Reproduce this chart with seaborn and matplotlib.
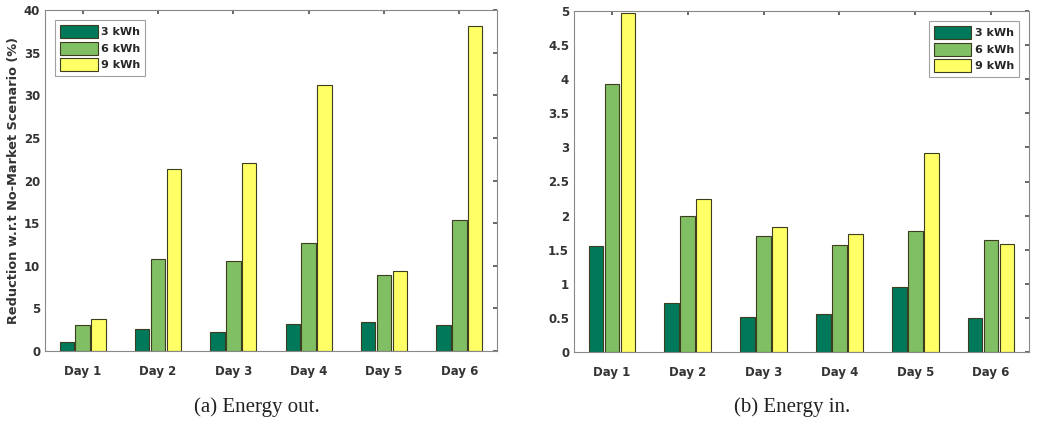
import matplotlib
matplotlib.use("Agg")
import matplotlib.pyplot as plt
import numpy as np
import pandas as pd
import seaborn as sns

# ----- data ------------------------------------------------------------------
DAYS = ["Day 1", "Day 2", "Day 3", "Day 4", "Day 5", "Day 6"]
SIZES = ["3 kWh", "6 kWh", "9 kWh"]

OUT_3 = [1.1, 2.6, 2.2, 3.2, 3.4, 3.1]
OUT_6 = [3.0, 10.8, 10.6, 12.7, 8.9, 15.4]
OUT_9 = [3.7, 21.3, 22.0, 31.2, 9.4, 38.1]

IN_3 = [1.55, 0.72, 0.52, 0.55, 0.96, 0.50]
IN_6 = [3.93, 2.00, 1.70, 1.57, 1.78, 1.64]
IN_9 = [4.97, 2.24, 1.84, 1.73, 2.92, 1.58]

COLORS = ["#00795a", "#80bf63", "#ffff66"]


def long_df(a, b, c):
    rows = []
    for size, vals in zip(SIZES, [a, b, c]):
        for d, v in zip(DAYS, vals):
            rows.append({"day": d, "size": size, "value": v})
    return pd.DataFrame(rows)


def style_ax(ax, ymax, step):
    ax.set_xlim(-0.5, 5.5)
    ax.set_ylim(0, ymax)
    ticks = np.arange(0, ymax + step / 2, step)
    ax.set_yticks(ticks)
    ax.set_yticklabels([f"{t:g}" for t in ticks])
    ax.set_xlabel("")
    ax.tick_params(direction="in", top=True, right=True, length=3,
                   color="#555555", labelsize=8.5, labelcolor="#333333")
    ax.tick_params(axis="x", pad=10)
    for lbl in ax.get_xticklabels() + ax.get_yticklabels():
        lbl.set_fontweight("bold")
    for sp in ax.spines.values():
        sp.set_color("#888888")
        sp.set_linewidth(0.8)
    ax.grid(False)


sns.set_theme(style="white")
plt.rcParams["font.family"] = ["DejaVu Sans"]

fig = plt.figure(figsize=(10.56, 4.26), dpi=100)
ax1 = fig.add_axes([45 / 1056, 75 / 426, 452 / 1056, 341 / 426])
ax2 = fig.add_axes([574 / 1056, 74 / 426, 455 / 1056, 341 / 426])

for ax, data, ymax, step, loc in [
    (ax1, long_df(OUT_3, OUT_6, OUT_9), 40, 5, "upper left"),
    (ax2, long_df(IN_3, IN_6, IN_9), 5, 0.5, "upper right"),
]:
    sns.barplot(data=data, x="day", y="value", hue="size", hue_order=SIZES,
                palette=COLORS, saturation=1, width=0.63, gap=0.08,
                edgecolor="#3d3d1f", linewidth=0.8, ax=ax)
    style_ax(ax, ymax, step)
    ax.set_ylabel("")
    leg = ax.legend(loc=loc, frameon=True, fancybox=False, edgecolor="#888888",
                    prop={"weight": "bold", "size": 8}, handlelength=3.4,
                    handleheight=1.45, borderaxespad=0.9, labelspacing=0.3,
                    handletextpad=0.3, borderpad=0.45)
    leg.get_frame().set_linewidth(0.8)

ax1.set_ylabel("Reduction w.r.t No-Market Scenario (%)", fontsize=9.3,
               fontweight="bold", color="#333333", labelpad=3)

fig.text(257 / 1056, 1 - 407 / 426, "(a) Energy out.", ha="center", va="center",
         fontsize=15, family=["Liberation Serif"], color="#222222")
fig.text(792 / 1056, 1 - 407 / 426, "(b) Energy in.", ha="center", va="center",
         fontsize=15, family=["Liberation Serif"], color="#222222")

fig.savefig("out.png", dpi=100)
